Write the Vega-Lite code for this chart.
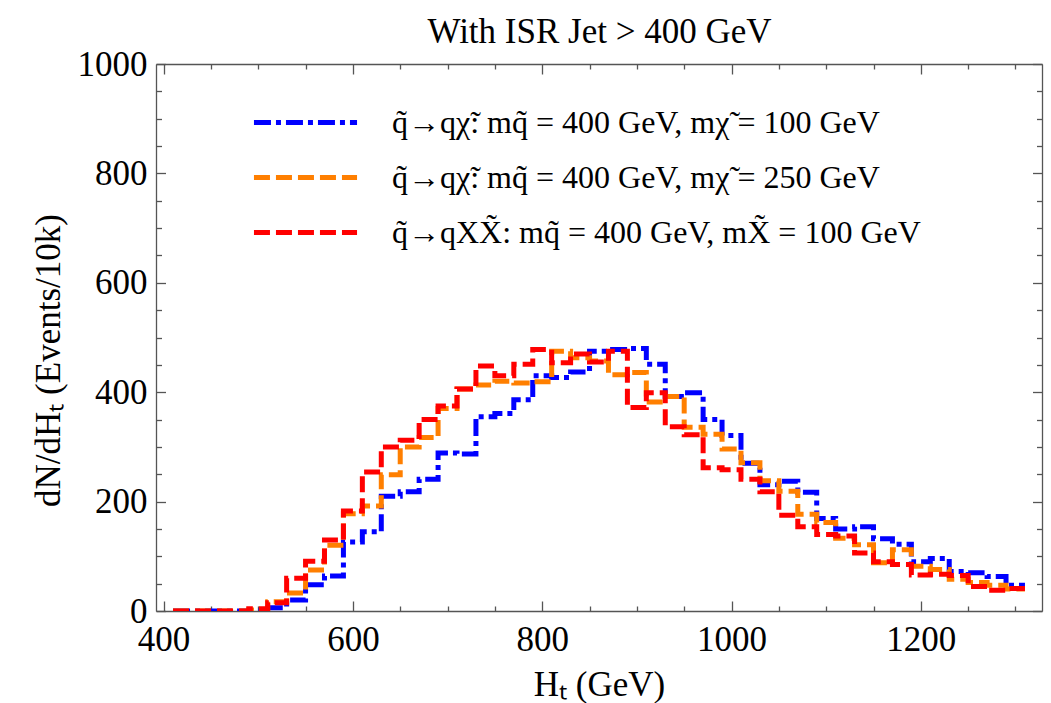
{
  "$schema": "https://vega.github.io/schema/vega-lite/v6.json",
  "autosize": {"type": "none"},
  "padding": {"left": 156, "top": 64, "right": 9, "bottom": 92},
  "width": 886,
  "height": 547,
  "background": "white",
  "config": {
    "view": {"stroke": null},
    "legend": {
      "orient": "none", "legendX": 126, "legendY": 35, "padding": 0,
      "symbolType": "M-2.5,0H2.5", "symbolSize": 1700, "symbolStrokeWidth": 5,
      "labelFont": "Liberation Serif", "labelFontSize": 32, "labelColor": "black", "labelLimit": 800,
      "rowPadding": 15, "labelOffset": 63, "title": null
    }
  },
  "data": {"values": [
    {"s":"A","lo":410,"hi":430,"n":0},{"s":"A","lo":430,"hi":450,"n":0},{"s":"A","lo":450,"hi":470,"n":0},{"s":"A","lo":470,"hi":490,"n":0},{"s":"A","lo":490,"hi":510,"n":1},
    {"s":"A","lo":510,"hi":530,"n":6},{"s":"A","lo":530,"hi":550,"n":20},{"s":"A","lo":550,"hi":570,"n":48},{"s":"A","lo":570,"hi":590,"n":64},{"s":"A","lo":590,"hi":610,"n":126},
    {"s":"A","lo":610,"hi":630,"n":145},{"s":"A","lo":630,"hi":650,"n":210},{"s":"A","lo":650,"hi":670,"n":218},{"s":"A","lo":670,"hi":690,"n":241},{"s":"A","lo":690,"hi":710,"n":289},
    {"s":"A","lo":710,"hi":730,"n":287},{"s":"A","lo":730,"hi":750,"n":355},{"s":"A","lo":750,"hi":770,"n":361},{"s":"A","lo":770,"hi":790,"n":386},{"s":"A","lo":790,"hi":810,"n":430},
    {"s":"A","lo":810,"hi":830,"n":427},{"s":"A","lo":830,"hi":850,"n":437},{"s":"A","lo":850,"hi":870,"n":475},{"s":"A","lo":870,"hi":890,"n":478},{"s":"A","lo":890,"hi":910,"n":480},
    {"s":"A","lo":910,"hi":930,"n":451},{"s":"A","lo":930,"hi":950,"n":392},{"s":"A","lo":950,"hi":970,"n":399},{"s":"A","lo":970,"hi":990,"n":350},{"s":"A","lo":990,"hi":1010,"n":321},
    {"s":"A","lo":1010,"hi":1030,"n":270},{"s":"A","lo":1030,"hi":1050,"n":231},{"s":"A","lo":1050,"hi":1070,"n":237},{"s":"A","lo":1070,"hi":1090,"n":217},{"s":"A","lo":1090,"hi":1110,"n":169},
    {"s":"A","lo":1110,"hi":1130,"n":150},{"s":"A","lo":1130,"hi":1150,"n":154},{"s":"A","lo":1150,"hi":1170,"n":132},{"s":"A","lo":1170,"hi":1190,"n":122},{"s":"A","lo":1190,"hi":1210,"n":90},
    {"s":"A","lo":1210,"hi":1230,"n":96},{"s":"A","lo":1230,"hi":1250,"n":72},{"s":"A","lo":1250,"hi":1270,"n":70},{"s":"A","lo":1270,"hi":1290,"n":63},{"s":"A","lo":1290,"hi":1310,"n":47},
    {"s":"B","lo":410,"hi":430,"n":0},{"s":"B","lo":430,"hi":450,"n":0},{"s":"B","lo":450,"hi":470,"n":0},{"s":"B","lo":470,"hi":490,"n":0},{"s":"B","lo":490,"hi":510,"n":2},
    {"s":"B","lo":510,"hi":530,"n":17},{"s":"B","lo":530,"hi":550,"n":33},{"s":"B","lo":550,"hi":570,"n":75},{"s":"B","lo":570,"hi":590,"n":120},{"s":"B","lo":590,"hi":610,"n":178},
    {"s":"B","lo":610,"hi":630,"n":192},{"s":"B","lo":630,"hi":650,"n":249},{"s":"B","lo":650,"hi":670,"n":300},{"s":"B","lo":670,"hi":690,"n":317},{"s":"B","lo":690,"hi":710,"n":370},
    {"s":"B","lo":710,"hi":730,"n":406},{"s":"B","lo":730,"hi":750,"n":413},{"s":"B","lo":750,"hi":770,"n":420},{"s":"B","lo":770,"hi":790,"n":417},{"s":"B","lo":790,"hi":810,"n":419},
    {"s":"B","lo":810,"hi":830,"n":475},{"s":"B","lo":830,"hi":850,"n":463},{"s":"B","lo":850,"hi":870,"n":457},{"s":"B","lo":870,"hi":890,"n":432},{"s":"B","lo":890,"hi":910,"n":436},
    {"s":"B","lo":910,"hi":930,"n":382},{"s":"B","lo":930,"hi":950,"n":392},{"s":"B","lo":950,"hi":970,"n":336},{"s":"B","lo":970,"hi":990,"n":323},{"s":"B","lo":990,"hi":1010,"n":296},
    {"s":"B","lo":1010,"hi":1030,"n":271},{"s":"B","lo":1030,"hi":1050,"n":238},{"s":"B","lo":1050,"hi":1070,"n":219},{"s":"B","lo":1070,"hi":1090,"n":177},{"s":"B","lo":1090,"hi":1110,"n":162},
    {"s":"B","lo":1110,"hi":1130,"n":133},{"s":"B","lo":1130,"hi":1150,"n":121},{"s":"B","lo":1150,"hi":1170,"n":88},{"s":"B","lo":1170,"hi":1190,"n":112},{"s":"B","lo":1190,"hi":1210,"n":82},
    {"s":"B","lo":1210,"hi":1230,"n":76},{"s":"B","lo":1230,"hi":1250,"n":58},{"s":"B","lo":1250,"hi":1270,"n":52},{"s":"B","lo":1270,"hi":1290,"n":47},{"s":"B","lo":1290,"hi":1310,"n":40},
    {"s":"C","lo":410,"hi":430,"n":0},{"s":"C","lo":430,"hi":450,"n":0},{"s":"C","lo":450,"hi":470,"n":0},{"s":"C","lo":470,"hi":490,"n":0},{"s":"C","lo":490,"hi":510,"n":4},
    {"s":"C","lo":510,"hi":530,"n":15},{"s":"C","lo":530,"hi":550,"n":60},{"s":"C","lo":550,"hi":570,"n":91},{"s":"C","lo":570,"hi":590,"n":130},{"s":"C","lo":590,"hi":610,"n":183},
    {"s":"C","lo":610,"hi":630,"n":254},{"s":"C","lo":630,"hi":650,"n":300},{"s":"C","lo":650,"hi":670,"n":312},{"s":"C","lo":670,"hi":690,"n":350},{"s":"C","lo":690,"hi":710,"n":375},
    {"s":"C","lo":710,"hi":730,"n":406},{"s":"C","lo":730,"hi":750,"n":448},{"s":"C","lo":750,"hi":770,"n":430},{"s":"C","lo":770,"hi":790,"n":451},{"s":"C","lo":790,"hi":810,"n":478},
    {"s":"C","lo":810,"hi":830,"n":454},{"s":"C","lo":830,"hi":850,"n":470},{"s":"C","lo":850,"hi":870,"n":455},{"s":"C","lo":870,"hi":890,"n":475},{"s":"C","lo":890,"hi":910,"n":372},
    {"s":"C","lo":910,"hi":930,"n":399},{"s":"C","lo":930,"hi":950,"n":337},{"s":"C","lo":950,"hi":970,"n":322},{"s":"C","lo":970,"hi":990,"n":262},{"s":"C","lo":990,"hi":1010,"n":258},
    {"s":"C","lo":1010,"hi":1030,"n":241},{"s":"C","lo":1030,"hi":1050,"n":218},{"s":"C","lo":1050,"hi":1070,"n":175},{"s":"C","lo":1070,"hi":1090,"n":154},{"s":"C","lo":1090,"hi":1110,"n":140},
    {"s":"C","lo":1110,"hi":1130,"n":137},{"s":"C","lo":1130,"hi":1150,"n":106},{"s":"C","lo":1150,"hi":1170,"n":90},{"s":"C","lo":1170,"hi":1190,"n":85},{"s":"C","lo":1190,"hi":1210,"n":66},
    {"s":"C","lo":1210,"hi":1230,"n":67},{"s":"C","lo":1230,"hi":1250,"n":65},{"s":"C","lo":1250,"hi":1270,"n":45},{"s":"C","lo":1270,"hi":1290,"n":38},{"s":"C","lo":1290,"hi":1310,"n":41}
  ]},
  "transform": [{"fold": ["lo", "hi"], "as": ["edge", "ht"]}],
  "resolve": {"axis": {"x": "independent", "y": "independent"}},
  "layer": [
    {
      "transform": [{"filter": "datum.s !== 'C'"}],
      "mark": {"type": "line", "strokeWidth": 5, "clip": true},
      "encoding": {
        "x": {"field": "ht", "type": "quantitative", "scale": {"domain": [392, 1328], "nice": false, "zero": false},
          "axis": {"orient": "bottom", "values": [400,450,500,550,600,650,700,750,800,850,900,950,1000,1050,1100,1150,1200,1250,1300],
            "format": "d",
            "labelExpr": "datum.value % 200 === 0 ? datum.label : ''",
            "tickSize": {"condition": {"test": "datum.value % 200 === 0", "value": -10}, "value": -5},
            "labelPadding": 21, "labelFont": "Liberation Serif", "labelFontSize": 35, "labelColor": "black", "labelOverlap": false, "labelFlush": false,
            "title": "Hₜ (GeV)", "titleFont": "Liberation Serif", "titleFontSize": 35, "titleFontWeight": "normal", "titleColor": "black", "titleBaseline": "alphabetic", "titleX": 443, "titleY": 84,
            "domainColor": "#555", "tickColor": "#555", "domainWidth": 1.3, "tickWidth": 1.3, "grid": false}},
        "y": {"field": "n", "type": "quantitative", "scale": {"domain": [0, 1000], "nice": false},
          "axis": {"orient": "left", "values": [0,50,100,150,200,250,300,350,400,450,500,550,600,650,700,750,800,850,900,950,1000],
            "format": "d",
            "labelExpr": "datum.value % 200 === 0 ? datum.label : ''",
            "tickSize": {"condition": {"test": "datum.value % 200 === 0", "value": -9.5}, "value": -5.5},
            "labelPadding": 18.5, "labelFont": "Liberation Serif", "labelFontSize": 35, "labelColor": "black", "labelOverlap": false, "labelFlush": false,
            "title": "dN/dHₜ (Events/10k)", "titleFont": "Liberation Serif", "titleFontSize": 35, "titleFontWeight": "normal", "titleColor": "black", "titleBaseline": "alphabetic", "titleX": -97, "titleY": 296,
            "domainColor": "#555", "tickColor": "#555", "domainWidth": 1.3, "tickWidth": 1.3, "grid": false}},
        "color": {"field": "s", "type": "nominal", "scale": {"domain": ["A","B","C"], "range": ["#0000ff","#ff7f00","#ff0000"]},
          "legend": {"labelExpr": "datum.label == 'A' ? 'q̃→qχ̃: mq̃ = 400 GeV, mχ̃ = 100 GeV' : datum.label == 'B' ? 'q̃→qχ̃: mq̃ = 400 GeV, mχ̃ = 250 GeV' : 'q̃→qXX̃: mq̃ = 400 GeV, mX̃ = 100 GeV'"}},
        "strokeDash": {"field": "s", "type": "nominal", "scale": {"domain": ["A","B","C"], "range": [[17,5,5,5],[16,6],[16,6]]},
          "legend": {"labelExpr": "datum.label == 'A' ? 'q̃→qχ̃: mq̃ = 400 GeV, mχ̃ = 100 GeV' : datum.label == 'B' ? 'q̃→qχ̃: mq̃ = 400 GeV, mχ̃ = 250 GeV' : 'q̃→qXX̃: mq̃ = 400 GeV, mX̃ = 100 GeV'"}},
        "order": [{"field": "ht", "type": "quantitative"}, {"field": "edge", "type": "nominal"}]
      }
    },
    {
      "transform": [{"filter": "datum.s === 'C'"}],
      "mark": {"type": "line", "strokeWidth": 5, "clip": true},
      "encoding": {
        "x": {"field": "ht", "type": "quantitative",
          "axis": {"orient": "top", "values": [400,450,500,550,600,650,700,750,800,850,900,950,1000,1050,1100,1150,1200,1250,1300],
            "labels": false,
            "title": "With ISR Jet > 400 GeV", "titleFont": "Liberation Serif", "titleFontSize": 35, "titleFontWeight": "normal", "titleColor": "black", "titleBaseline": "alphabetic", "titleAlign": "center", "titleX": 443, "titleY": -22,
            "tickSize": {"condition": {"test": "datum.value % 200 === 0", "value": -10}, "value": -5},
            "domainColor": "#555", "tickColor": "#555", "domainWidth": 1.3, "tickWidth": 1.3, "grid": false}},
        "y": {"field": "n", "type": "quantitative",
          "axis": {"orient": "right", "values": [0,50,100,150,200,250,300,350,400,450,500,550,600,650,700,750,800,850,900,950,1000],
            "labels": false, "title": null,
            "tickSize": {"condition": {"test": "datum.value % 200 === 0", "value": -9.5}, "value": -5.5},
            "domainColor": "#555", "tickColor": "#555", "domainWidth": 1.3, "tickWidth": 1.3, "grid": false}},
        "color": {"field": "s", "type": "nominal"},
        "strokeDash": {"field": "s", "type": "nominal"},
        "order": [{"field": "ht", "type": "quantitative"}, {"field": "edge", "type": "nominal"}]
      }
    }
  ]
}
